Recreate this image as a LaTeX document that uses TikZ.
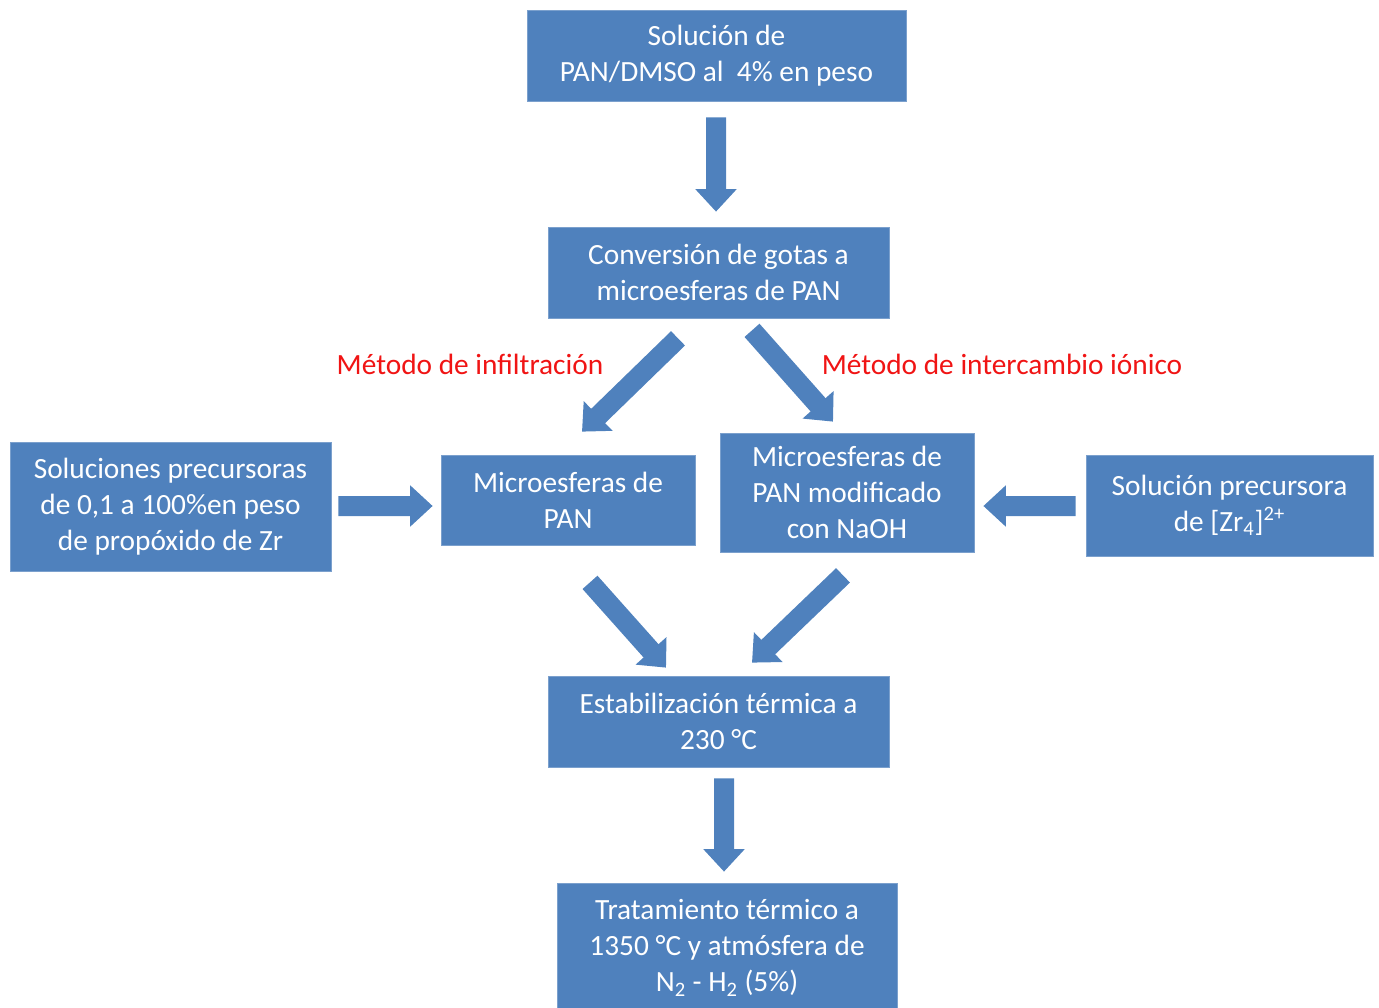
\documentclass[tikz,border=0pt]{standalone}
\usepackage{fontspec}
\setmainfont{Carlito}
\usetikzlibrary{arrows.meta,calc,positioning}
\definecolor{boxblue}{RGB}{79,129,189}
\definecolor{labred}{RGB}{240,20,20}

\begin{document}
\begin{tikzpicture}[font=\fontsize{16.7}{20.4}\selectfont,
	paso/.style={fill=boxblue, draw=boxblue!75!white, thin, text=white, align=center, inner sep=0pt},
	flecha/.style={draw=boxblue, line width=0.4cm, -{Triangle[width=0.8cm,length=0.45cm]}},
	metodo/.style={text=labred}]

\useasboundingbox (0,0) rectangle (27.58,-20.16);

% cajas
\node[paso, minimum width=7.58cm, minimum height=1.82cm] (sol) at (14.33,-1.11) {Solución de\\PAN/DMSO al~ 4\% en peso};
\node[paso, minimum width=6.82cm, minimum height=1.82cm] (conv) at (14.37,-5.45) {Conversión de gotas a\\microesferas de PAN};
\node[paso, minimum width=5.08cm, minimum height=1.80cm] (micro) at (11.36,-10.0) {Microesferas de\\PAN};
\node[paso, minimum width=5.08cm, minimum height=2.38cm] (naoh) at (16.94,-9.85) {Microesferas de\\PAN modificado\\con NaOH};
\node[paso, minimum width=6.42cm, minimum height=2.58cm] (prop) at (3.41,-10.13) {Soluciones precursoras\\de 0,1 a 100\%en peso\\de propóxido de Zr};
\node[paso, minimum width=5.74cm, minimum height=2.02cm] (zr) at (24.59,-10.11) {Solución precursora\\de [Zr\textsubscript{4}]\textsuperscript{2+}};
\node[paso, minimum width=6.82cm, minimum height=1.82cm] (estab) at (14.37,-14.43) {Estabilización térmica a\\230 °C};
\node[paso, minimum width=6.80cm, minimum height=2.60cm] (trat) at (14.54,-18.96) {Tratamiento térmico a\\1350 °C y atmósfera de\\N\textsubscript{2} - H\textsubscript{2} (5\%)};

% etiquetas
\node[metodo] (infil) at (9.4,-7.28) {Método de infiltración};
\node[metodo] (inter) at (20.04,-7.28) {Método de intercambio iónico};

% flechas
\draw[flecha] ([xshift=-0.01cm,yshift=-0.32cm]sol.south) -- ([xshift=-0.05cm,yshift=0.30cm]conv.north);
\draw[flecha] ($(conv.south)+(-0.81,-0.40)$) -- ($(micro.north)+(0.28,0.46)$);
\draw[flecha] ($(conv.south)+(0.67,-0.24)$) -- ($(naoh.north)+(-0.28,0.22)$);
\draw[flecha] ([xshift=0.14cm,yshift=0.01cm]prop.east) -- ([xshift=-0.16cm,yshift=-0.12cm]micro.west);
\draw[flecha] ([xshift=-0.20cm,yshift=-0.01cm]zr.west) -- ([xshift=0.18cm,yshift=-0.27cm]naoh.east);
\draw[flecha] ($(micro.south)+(0.44,-0.74)$) -- ($(estab.north)+(-1.05,0.16)$);
\draw[flecha] ($(naoh.south)+(-0.08,-0.46)$) -- ($(estab.north)+(0.67,0.26)$);
\draw[flecha] ([xshift=0.11cm,yshift=-0.22cm]estab.south) -- ([xshift=-0.06cm,yshift=0.22cm]trat.north);

\end{tikzpicture}
\end{document}
